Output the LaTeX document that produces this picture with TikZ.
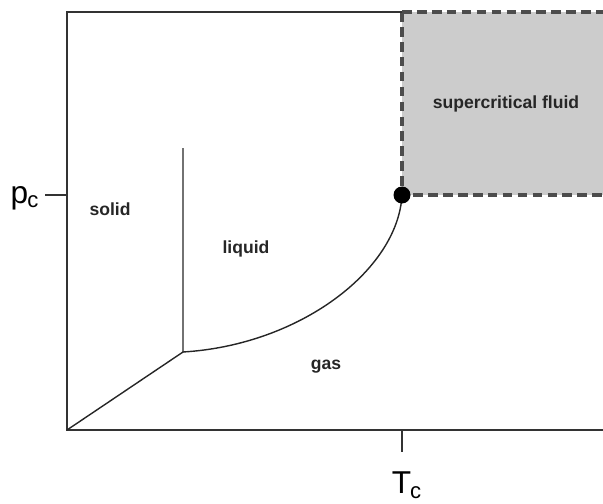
\documentclass[tikz,border=0pt]{standalone}
\usepackage{fontspec}
\setmainfont{Liberation Sans}
\usetikzlibrary{positioning}

\begin{document}
\begin{tikzpicture}[x=0.02cm, y=-0.02cm,
        axis/.style={line width=1.1pt, black!80},
        phaseline/.style={line width=0.8pt, black!85},
        critline/.style={line width=2pt, black!70, dash pattern=on 5.5pt off 3pt},
        region/.style={font=\fontsize{10}{12}\selectfont\bfseries, text=black!85},
        sym/.style={font=\fontsize{18}{20}\selectfont, inner sep=0pt}]
        \useasboundingbox (0,0) rectangle (603,504);
        % coordinates
        \coordinate (origin) at (67,430);
        \coordinate (top) at (67,12);
        \coordinate (topc) at (402,12);
        \coordinate (topr) at (603,12);
        \coordinate (right) at (603,430);
        \coordinate (crit) at (402,195);
        \coordinate (critr) at (603,195);
        \coordinate (triple) at (183,352);
        \coordinate (melt) at (183,148);
        \coordinate (ptick) at (45,195);
        \coordinate (pbase) at (67,195);
        \coordinate (ttick) at (402,452);
        \coordinate (tbase) at (402,430);
        % supercritical region
        \fill[black!20] (topc) rectangle (critr);
        \draw[critline] (topc) -- (crit) -- (critr);
        \draw[critline] (topc) -- (topr);
        % axes
        \draw[axis] (topc) -- (top) -- (origin) -- (right);
        \draw[axis] (ptick) -- (pbase);
        \draw[axis] (tbase) -- (ttick);
        % phase boundaries
        \draw[phaseline] (origin) -- (triple) -- (melt);
        \draw[phaseline] (triple) .. controls (300,345) and (398,270) .. (crit);
        \fill (crit) circle (8.5);
        % labels
        \node[sym] (pc) at (25,198) {p\kern-0.5pt\textsubscript{c}};
        \node[sym] (tc) at (407,485) {T\kern-0.5pt\textsubscript{c}};
        \node[region] (solid) at (110,209) {solid};
        \node[region] (liquid) at (246,249) {liquid};
        \node[region] (gas) at (326,367) {gas};
        \node[region] (scf) at (506,104) {supercritical fluid};
\end{tikzpicture}
\end{document}
